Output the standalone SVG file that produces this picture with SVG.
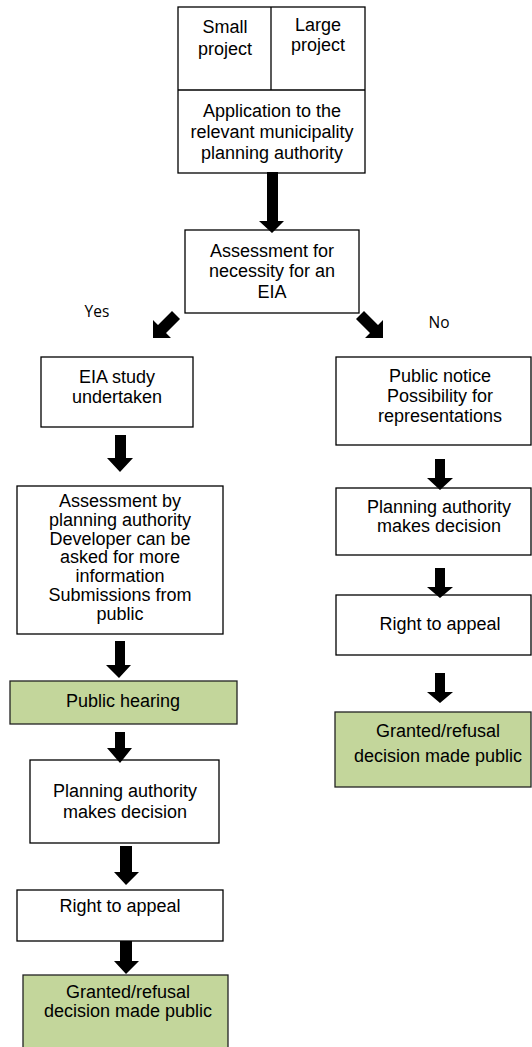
<svg xmlns="http://www.w3.org/2000/svg" width="532" height="1047" viewBox="0 0 532 1047">
<style>
.box{fill:#fff;stroke:#000;stroke-width:1.3}
.green{fill:#c3d69b;stroke:#222;stroke-width:1.3}
.t{font-family:"Liberation Sans",Arial,sans-serif;font-size:18px;fill:#000;text-anchor:middle}
.lbl{font-family:"Open Sans","Liberation Sans",sans-serif;font-size:15.5px;fill:#000;text-anchor:middle}
.arr{fill:#000}
</style>
<rect width="532" height="1047" fill="#fff"/>
<g id="start">
<rect class="box" x="178" y="7" width="187" height="166"/>
<line x1="178" y1="90" x2="365" y2="90" stroke="#000" stroke-width="1.3"/>
<line x1="271" y1="7" x2="271" y2="90" stroke="#000" stroke-width="1.3"/>
<text class="t" x="225" y="33">Small</text>
<text class="t" x="225" y="55">project</text>
<text class="t" x="318" y="31">Large</text>
<text class="t" x="318" y="51">project</text>
<text class="t" x="272" y="117">Application to the</text>
<text class="t" x="272" y="138">relevant municipality</text>
<text class="t" x="272" y="159">planning authority</text>
</g>
<g id="necessity">
<rect class="box" x="185" y="230" width="174" height="83"/>
<text class="t" x="272" y="257">Assessment for</text>
<text class="t" x="272" y="277">necessity for an</text>
<text class="t" x="272" y="298">EIA</text>
</g>
<g id="eia-study">
<rect class="box" x="41" y="357" width="152" height="70"/>
<text class="t" x="117" y="383">EIA study</text>
<text class="t" x="117" y="403">undertaken</text>
</g>
<g id="assessment">
<rect class="box" x="17" y="486" width="206" height="148"/>
<text class="t" x="120" y="507">Assessment by</text>
<text class="t" x="120" y="525.8">planning authority</text>
<text class="t" x="120" y="544.6">Developer can be</text>
<text class="t" x="120" y="563.4">asked for more</text>
<text class="t" x="120" y="582.2">information</text>
<text class="t" x="120" y="601">Submissions from</text>
<text class="t" x="120" y="619.8">public</text>
</g>
<g id="hearing">
<rect class="green" x="10" y="681" width="227" height="43"/>
<text class="t" x="123" y="707">Public hearing</text>
</g>
<g id="decision-left">
<rect class="box" x="30" y="760" width="189" height="83"/>
<text class="t" x="125" y="797">Planning authority</text>
<text class="t" x="125" y="818">makes decision</text>
</g>
<g id="appeal-left">
<rect class="box" x="17" y="890" width="206" height="51"/>
<text class="t" x="120" y="912">Right to appeal</text>
</g>
<g id="public-left">
<rect class="green" x="23" y="975" width="205" height="90"/>
<text class="t" x="128" y="998">Granted/refusal</text>
<text class="t" x="128" y="1017">decision made public</text>
</g>
<g id="notice">
<rect class="box" x="336" y="357" width="195" height="88"/>
<text class="t" x="440" y="382">Public notice</text>
<text class="t" x="440" y="402">Possibility for</text>
<text class="t" x="440" y="422">representations</text>
</g>
<g id="decision-right">
<rect class="box" x="336" y="488" width="195" height="67"/>
<text class="t" x="439" y="513">Planning authority</text>
<text class="t" x="439" y="532">makes decision</text>
</g>
<g id="appeal-right">
<rect class="box" x="336" y="595" width="195" height="60"/>
<text class="t" x="440" y="630">Right to appeal</text>
</g>
<g id="public-right">
<rect class="green" x="335" y="712" width="196" height="75"/>
<text class="t" x="438" y="737">Granted/refusal</text>
<text class="t" x="438" y="762">decision made public</text>
</g>
<g id="connectors">
<polygon class="arr" points="267,172 278,172 278,221 284,221 272,233 259,221 267,221"/>
<polygon class="arr" points="153,338 153,320 158,325 172,311 180,319 166,333 171,338"/>
<polygon class="arr" points="383,338 383,320 378,325 364,311 356,319 370,333 365,338"/>
<polygon class="arr" points="115,435 126,435 126,458 133,458 120,472 107,458 115,458"/>
<polygon class="arr" points="115,641 125,641 125,665 131,665 119,678 106,665 115,665"/>
<polygon class="arr" points="115,732 125,732 125,748 132,748 120,763 107,748 115,748"/>
<polygon class="arr" points="120,846 132,846 132,872 139,872 126,885 114,872 120,872"/>
<polygon class="arr" points="120,941 132,941 132,961 139,961 126,974 114,961 120,961"/>
<polygon class="arr" points="435,459 445,459 445,478 453,478 440,490 427,478 435,478"/>
<polygon class="arr" points="435,568 445,568 445,587 453,587 440,598 427,587 435,587"/>
<polygon class="arr" points="435,673 445,673 445,692 453,692 440,703 427,692 435,692"/>
<text class="lbl" x="97" y="317">Yes</text>
<text class="lbl" x="439" y="328">No</text>
</g>
</svg>
